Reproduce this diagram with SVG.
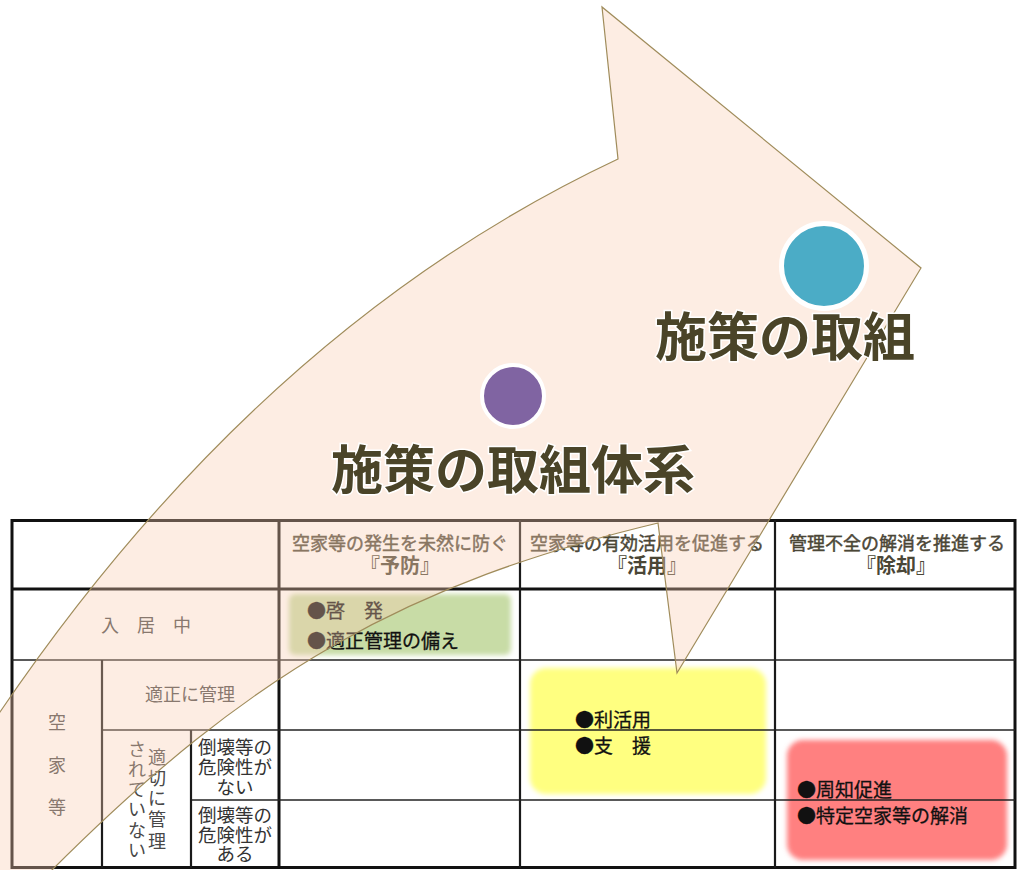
<svg xmlns="http://www.w3.org/2000/svg" width="1018" height="870" viewBox="0 0 1018 870">
<defs>
<filter id="soft" x="-10%" y="-10%" width="120%" height="120%"><feGaussianBlur stdDeviation="2.5"/></filter>
<style>
text{font-family:"Noto Sans CJK JP","Noto Sans CJK SC",sans-serif;}
.hd{font-size:18px;fill:#4a4636;stroke:#4a4636;stroke-width:0.45;text-anchor:middle;}
.hb{font-size:20px;font-weight:bold;fill:#4a4636;text-anchor:middle;}
.lt{font-size:18px;fill:#484848;text-anchor:middle;}
.dt{font-size:18.5px;fill:#333;text-anchor:middle;}
.bx{font-size:19px;fill:#111;stroke:#111;stroke-width:0.3;}
.thick{stroke:#111;stroke-width:3;fill:none;}
.mid{stroke:#1a1a1a;stroke-width:2.2;fill:none;}
.thin{stroke:#222;stroke-width:1.6;fill:none;}
.ttl{font-size:52px;font-weight:bold;fill:#4a4428;stroke:#fff;stroke-width:3;paint-order:stroke;}
</style>
</defs>
<rect width="1018" height="870" fill="#fff"/>

<g id="boxes">
<rect x="289" y="594" width="222" height="61" rx="6" fill="#c8dca6" filter="url(#soft)"/>
<rect x="530" y="668" width="236" height="126" rx="16" fill="#ffff80" filter="url(#soft)"/>
<rect x="787" y="740" width="220" height="120" rx="16" fill="#ff8080" filter="url(#soft)"/>
</g>

<g id="table">
<rect x="12" y="520.5" width="1003" height="347" class="thick"/>
<line x1="12" y1="589" x2="1015" y2="589" class="thick"/>
<line x1="279" y1="520" x2="279" y2="868" class="thick"/>
<line x1="520" y1="520" x2="520" y2="868" class="mid"/>
<line x1="775" y1="520" x2="775" y2="868" class="mid"/>
<line x1="12" y1="660" x2="1015" y2="660" class="thin"/>
<line x1="102" y1="730" x2="1015" y2="730" class="thin"/>
<line x1="191" y1="800" x2="1015" y2="800" class="thin"/>
<line x1="102" y1="660" x2="102" y2="868" class="mid"/>
<line x1="191" y1="730" x2="191" y2="868" class="mid"/>
</g>

<g id="header-yobo">
<text class="hd" x="400" y="550">空家等の発生を未然に防ぐ</text>
<text class="hb" x="400" y="573">『予防』</text>
</g>
<g id="header-katsuyo">
<text class="hd" x="647" y="550">空家等の有効活用を促進する</text>
<text class="hb" x="647" y="573">『活用』</text>
</g>
<g id="header-jokyaku">
<text class="hd" x="897" y="550">管理不全の解消を推進する</text>
<text class="hb" x="896" y="573">『除却』</text>
</g>

<g id="row-nyukyo">
<text class="lt" x="146" y="632">入　居　中</text>
</g>
<g id="row-akiya">
<text class="lt"><tspan x="57" y="729">空</tspan><tspan x="57" y="772">家</tspan><tspan x="57" y="814">等</tspan></text>
</g>
<g id="row-tekisei">
<text class="lt" x="190" y="701">適正に管理</text>
</g>
<g id="row-futekisei">
<text class="lt"><tspan x="157" y="764">適</tspan><tspan x="157" y="785">切</tspan><tspan x="157" y="805">に</tspan><tspan x="157" y="826">管</tspan><tspan x="157" y="848">理</tspan><tspan x="137" y="756">さ</tspan><tspan x="137" y="776">れ</tspan><tspan x="137" y="796">て</tspan><tspan x="137" y="816">い</tspan><tspan x="137" y="837">な</tspan><tspan x="137" y="857">い</tspan></text>
</g>
<g id="row-kiken-nai">
<text class="dt"><tspan x="235" y="754">倒壊等の</tspan><tspan x="235" y="774">危険性が</tspan><tspan x="235" y="794">ない</tspan></text>
</g>
<g id="row-kiken-aru">
<text class="dt"><tspan x="235" y="822">倒壊等の</tspan><tspan x="235" y="842">危険性が</tspan><tspan x="235" y="861">ある</tspan></text>
</g>

<g id="box-yobo">
<text class="bx" x="307" y="618">●啓　発</text>
<text class="bx" x="307" y="648">●適正管理の備え</text>
</g>
<g id="box-katsuyo">
<text class="bx" x="575" y="727">●利活用</text>
<text class="bx" x="575" y="753">●支　援</text>
</g>
<g id="box-jokyaku">
<text class="bx" x="797" y="797">●周知促進</text>
<text class="bx" x="797" y="823">●特定空家等の解消</text>
</g>

<g id="connectors">
<path id="big-arrow" d="M 22,900 L 52,870 C 252,670 408,583 658,523 L 677,673 L 921,268 L 602,7 L 618,159 C 418,253 200,418 0,712 L -40,772 L -40,900 Z" fill="#facdb2" fill-opacity="0.36" stroke="#a08c5b" stroke-width="1.2"/>
</g>

<g id="title-system">
<circle cx="513" cy="396" r="31" fill="#8064a2" stroke="#fff" stroke-width="4"/>
<text class="ttl" x="331" y="489">施策の取組体系</text>
</g>
<g id="title-torikumi">
<circle cx="824" cy="266" r="42.5" fill="#4bacc6" stroke="#fff" stroke-width="5"/>
<text class="ttl" x="655" y="356">施策の取組</text>
</g>
</svg>
